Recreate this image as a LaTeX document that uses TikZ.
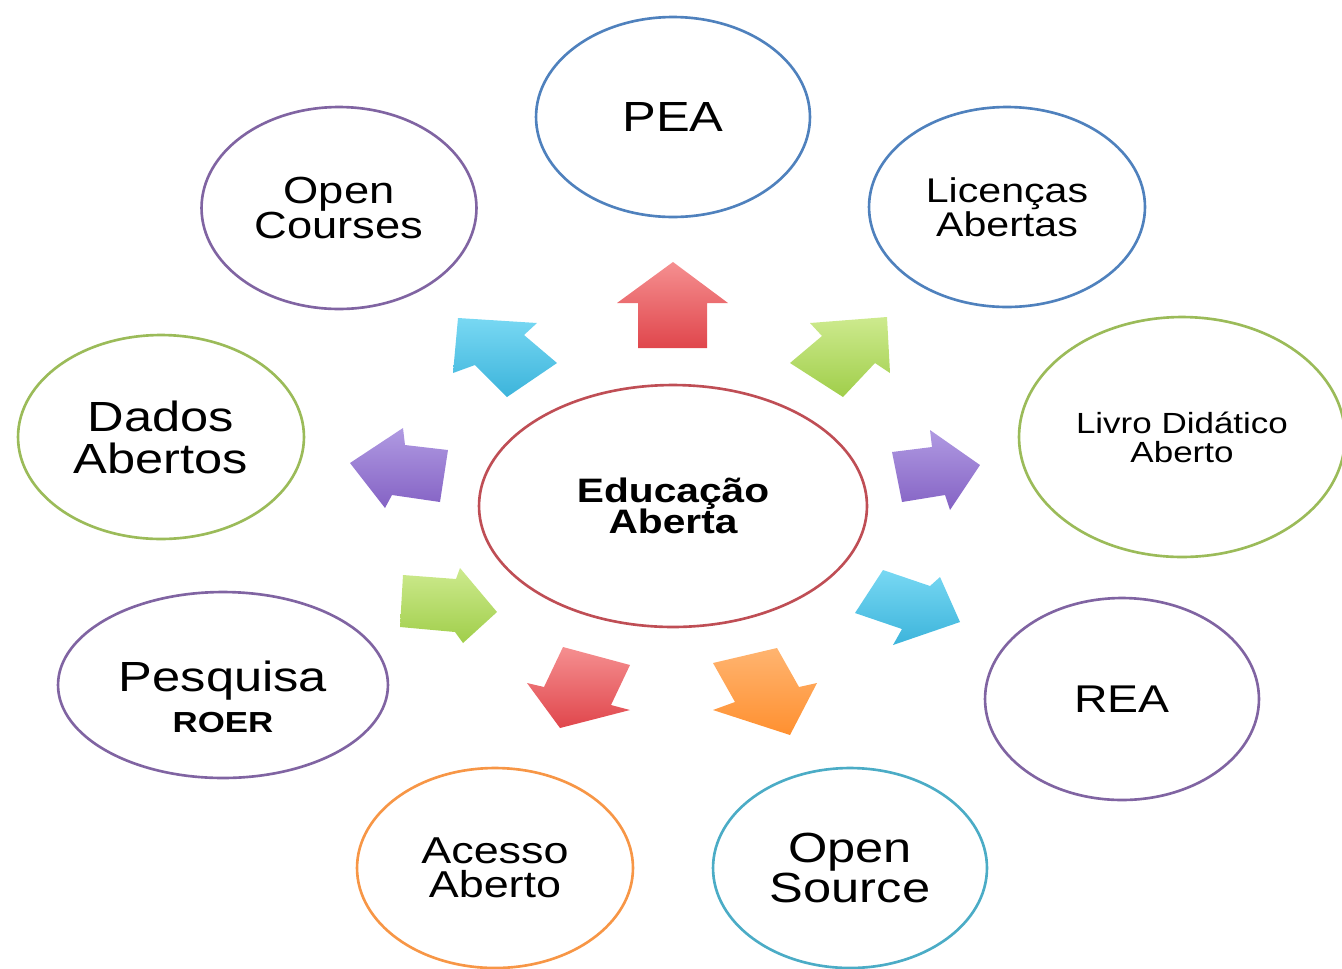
\documentclass[tikz,border=0pt]{standalone}
\usepackage{fontspec}
\setmainfont{Liberation Sans}[FakeStretch=1.2]
\usetikzlibrary{shapes.geometric}

% outline colours
\definecolor{cblue}{HTML}{4F81BD}
\definecolor{caqua}{HTML}{4BACC6}
\definecolor{cgreen}{HTML}{9BBB59}
\definecolor{cpurple}{HTML}{8064A2}
\definecolor{cred}{HTML}{BF4E55}
\definecolor{corange}{HTML}{F79646}
% arrow gradients (light top, darker bottom)
\definecolor{redT}{HTML}{F58F90}\definecolor{redB}{HTML}{E0464C}
\definecolor{cyanT}{HTML}{78D8F3}\definecolor{cyanB}{HTML}{3CB4DB}
\definecolor{greenT}{HTML}{CDEA8E}\definecolor{greenB}{HTML}{A0CE4A}
\definecolor{purpT}{HTML}{B09AE2}\definecolor{purpB}{HTML}{8462C4}
\definecolor{orT}{HTML}{FFB470}\definecolor{orB}{HTML}{FF9030}

\newcommand\fsz[2]{\fontsize{#1}{#2}\selectfont}

\tikzset{
  bubble/.style={ellipse, draw, line width=1.5pt, fill=white,
    inner sep=0pt, align=center},
  redarrow/.style={top color=redT, bottom color=redB},
  cyanarrow/.style={top color=cyanT, bottom color=cyanB},
  greenarrow/.style={top color=greenT, bottom color=greenB},
  purplearrow/.style={top color=purpT, bottom color=purpB},
  orangearrow/.style={top color=orT, bottom color=orB},
}

\begin{document}
\begin{tikzpicture}[x=0.02cm, y=-0.02cm]
\useasboundingbox (0,0) rectangle (1342,968);

% block arrows around the centre
\shade[redarrow] (673,262) -- (728,303) -- (707,303) -- (707,348)
  -- (638,348) -- (638,303) -- (617,303) -- cycle;
\shade[cyanarrow] (458,318) -- (537,323) -- (524,335) -- (557,363)
  -- (507,397) -- (475,365) -- (453,373) -- cycle;
\shade[greenarrow] (887,317) -- (890,373) -- (875,363) -- (843,397)
  -- (790,363) -- (822,336) -- (810,323) -- cycle;
\shade[purplearrow] (350,463) -- (403,428) -- (405,445) -- (448,450)
  -- (440,502) -- (392,495) -- (385,508) -- cycle;
\shade[purplearrow] (980,465) -- (950,510) -- (945,495) -- (902,502)
  -- (892,452) -- (932,447) -- (930,430) -- cycle;
\shade[greenarrow] (497,612) -- (463,643) -- (455,632) -- (400,627)
  -- (403,575) -- (456,579) -- (460,568) -- cycle;
\shade[cyanarrow] (960,622) -- (893,645) -- (902,629) -- (855,613)
  -- (883,570) -- (930,586) -- (940,577) -- cycle;
\shade[redarrow] (560,728) -- (527,683) -- (544,687) -- (563,647)
  -- (630,665) -- (611,705) -- (630,710) -- cycle;
\shade[orangearrow] (790,735) -- (713,710) -- (735,702) -- (713,663)
  -- (777,648) -- (799,687) -- (817,683) -- cycle;

% centre
\node[bubble, draw=cred, minimum width=7.76cm, minimum height=4.84cm,
      font=\fsz{19.3}{18}\bfseries] (edu) at (673,506) {Educação\\Aberta};

% surrounding topics
\node[bubble, draw=cblue, minimum width=5.48cm, minimum height=4cm,
      font=\fsz{24}{24}] (pea) at (673,117) {PEA};
\node[bubble, draw=cblue, minimum width=5.52cm, minimum height=4cm,
      font=\fsz{19.5}{18}] (lic) at (1007,207) {Licenças\\Abertas};
\node[bubble, draw=cgreen, minimum width=6.52cm, minimum height=4.8cm,
      font=\fsz{16.6}{16.6}] (livro) at (1182,437) {Livro Didático\\Aberto};
\node[bubble, draw=cpurple, minimum width=5.48cm, minimum height=4.04cm,
      font=\fsz{22}{22}] (rea) at (1122,699) {REA};
\node[bubble, draw=caqua, minimum width=5.48cm, minimum height=4cm,
      font=\fsz{24}{23}] (osrc) at (850,868) {Open\\Source};
\node[bubble, draw=corange, minimum width=5.52cm, minimum height=4cm,
      font=\fsz{21.3}{19.5}] (acesso) at (495,868) {Acesso\\Aberto};
\node[bubble, draw=cpurple, minimum width=6.6cm, minimum height=3.72cm]
      (pesq) at (223,685) {};
\node[align=center, inner sep=0pt] (pesqtxt) at (223,697)
      {{\fsz{24}{24}Pesquisa}\\[6pt]{\fsz{16.5}{16.5}\bfseries ROER}};
\node[bubble, draw=cgreen, minimum width=5.72cm, minimum height=4.08cm,
      font=\fsz{24}{24}] (dados) at (161,437) {Dados\\Abertos};
\node[bubble, draw=cpurple, minimum width=5.5cm, minimum height=4.04cm,
      font=\fsz{21.5}{20}] (courses) at (339,208) {Open\\Courses};
\end{tikzpicture}
\end{document}
